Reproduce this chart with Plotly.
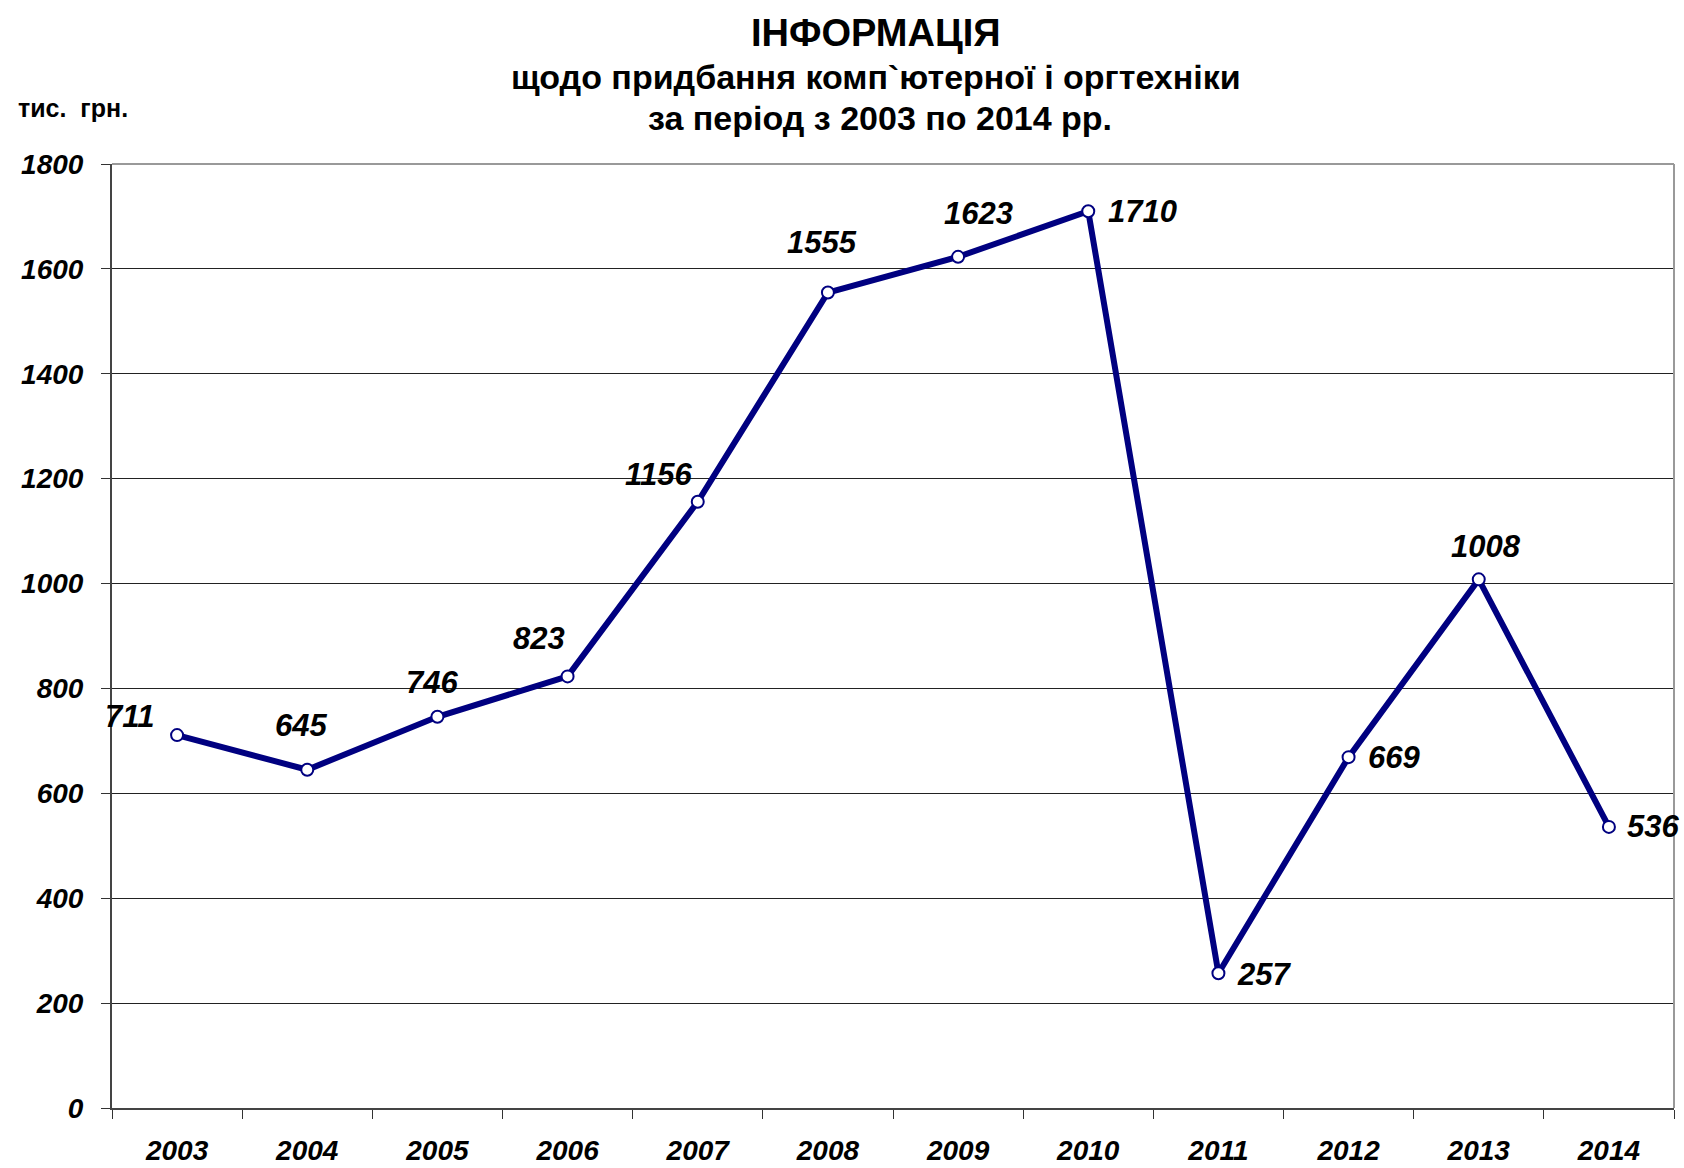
import plotly.graph_objects as go

# Annual spending on computer and office equipment, thousand UAH
years = ["2003", "2004", "2005", "2006", "2007", "2008",
         "2009", "2010", "2011", "2012", "2013", "2014"]
amounts = [711, 645, 746, 823, 1156, 1555, 1623, 1710, 257, 669, 1008, 536]

y_ticks = [0, 200, 400, 600, 800, 1000, 1200, 1400, 1600, 1800]

# pixel offsets of each value label relative to its point
label_dx = [-48, -6, -5, -29, -39, -6, 20, 54, 46, 45, 7, 44]
label_dy = [19, 44, 34, 38, 27, 50, 43, 0, -1, 0, 33, 0]

FONT = "Liberation Sans, Arial, sans-serif"
NAVY = "#000080"

W, H = 1684, 1168
L, R, T, B = 112, 10, 164, 60
plot_w = W - L - R
plot_h = H - T - B


def px_x(px):
    return (px - L) / plot_w


def px_y(py):
    return (H - B - py) / plot_h


fig = go.Figure()

fig.add_trace(go.Scatter(
    x=years,
    y=amounts,
    mode="lines+markers",
    line=dict(color=NAVY, width=6),
    marker=dict(size=12, color="white", line=dict(color=NAVY, width=2)),
    hoverinfo="x+y",
    showlegend=False,
    cliponaxis=False,
))

annotations = []
for i, (v, dx, dy) in enumerate(zip(amounts, label_dx, label_dy)):
    annotations.append(dict(
        x=i, y=v, xref="x", yref="y",
        text=str(v), showarrow=False,
        xshift=dx, yshift=dy,
        xanchor="center", yanchor="middle",
        font=dict(family=FONT, size=31, color="black", weight="bold", style="italic"),
    ))

# heading lines
annotations += [
    dict(text="ІНФОРМАЦІЯ", xref="paper", yref="paper",
         x=px_x(876), y=px_y(33), xanchor="center", yanchor="middle",
         showarrow=False,
         font=dict(family=FONT, size=38, color="black", weight="bold")),
    dict(text="щодо придбання комп`ютерної і оргтехніки", xref="paper", yref="paper",
         x=px_x(876), y=px_y(77), xanchor="center", yanchor="middle",
         showarrow=False,
         font=dict(family=FONT, size=34, color="black", weight="bold")),
    dict(text="за період з 2003 по 2014 рр.", xref="paper", yref="paper",
         x=px_x(880), y=px_y(118), xanchor="center", yanchor="middle",
         showarrow=False,
         font=dict(family=FONT, size=34, color="black", weight="bold")),
    dict(text="тис.\u00a0 грн.", xref="paper", yref="paper",
         x=px_x(16), y=px_y(108), xanchor="left", yanchor="middle",
         showarrow=False,
         font=dict(family=FONT, size=25, color="black", weight="bold")),
]

fig.update_layout(
    width=W, height=H,
    margin=dict(l=L, r=R, t=T, b=B, pad=0, autoexpand=False),
    paper_bgcolor="white",
    plot_bgcolor="white",
    annotations=annotations,
    shapes=[
        # top and right frame of the plot area
        dict(type="line", xref="paper", yref="paper", x0=0, x1=1, y0=1, y1=1,
             line=dict(color="#999999", width=2), layer="above"),
        dict(type="line", xref="paper", yref="paper", x0=1, x1=1, y0=0, y1=1,
             line=dict(color="#999999", width=2), layer="above"),
    ],
)

fig.update_xaxes(
    type="category",
    categoryorder="array", categoryarray=years,
    range=[-0.5, len(years) - 0.5],
    tickmode="array", tickvals=years, ticktext=years,
    tickangle=0,
    tickson="boundaries",
    ticks="outside", ticklen=9, tickwidth=1, tickcolor="#333333",
    showline=True, linecolor="#444444", linewidth=2,
    showgrid=False, zeroline=False,
    tickfont=dict(family=FONT, size=28, color="black", weight="bold", style="italic"),
    ticklabelstandoff=16,
    automargin=False,
)

fig.update_yaxes(
    range=[0, 1800],
    tickvals=y_ticks,
    ticktext=[str(v) for v in y_ticks],
    ticks="outside", ticklen=9, tickwidth=1, tickcolor="#333333",
    showline=True, linecolor="#444444", linewidth=2,
    showgrid=True, gridcolor="#222222", gridwidth=1,
    zeroline=False,
    tickfont=dict(family=FONT, size=28, color="black", weight="bold", style="italic"),
    ticklabelstandoff=12,
    automargin=False,
)

fig.write_html("out.html")
